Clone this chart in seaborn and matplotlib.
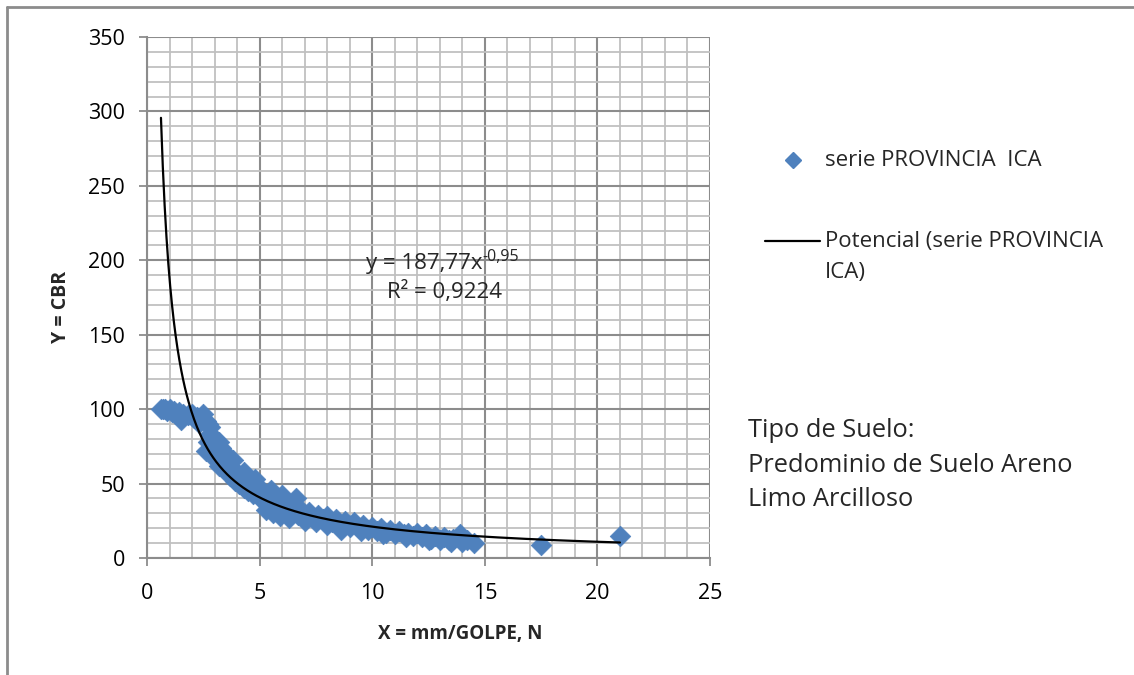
import numpy as np
import pandas as pd
import matplotlib
matplotlib.use("Agg")
import matplotlib.pyplot as plt
from matplotlib.lines import Line2D
from matplotlib.ticker import MultipleLocator
import seaborn as sns

# ---- data ----
x_mm_golpe = [0.62, 0.7, 0.8, 0.9, 1.0, 1.1, 1.2, 1.3, 1.4, 1.5, 1.6, 1.8, 2.0, 2.1, 2.2, 2.4, 2.5, 2.6, 2.7,
              2.6, 2.7, 2.8, 2.9, 3.0, 3.0, 3.1, 3.2, 3.2, 3.3, 3.4, 3.4, 3.5, 3.6, 3.6, 3.7, 3.8, 3.9, 4.0,
              4.1, 4.2, 4.3, 4.4, 4.5, 4.6, 4.7, 4.8, 4.9, 5.0, 5.1, 5.2, 5.3, 5.4, 5.5, 5.6, 5.7, 5.8, 5.9,
              6.0, 6.1, 6.2, 6.4, 6.5, 6.6, 6.7, 6.8, 7.0, 7.2, 7.4, 7.6, 7.8, 8.0, 8.2, 8.4, 8.6, 8.8, 9.0,
              9.2, 9.4, 9.6, 9.8, 10.0, 10.2, 10.4, 10.6, 10.8, 11.0, 11.2, 11.4, 11.6, 11.8, 12.0, 12.2,
              12.4, 12.6, 12.8, 13.0, 13.2, 13.4, 13.6, 13.9, 14.0, 14.2, 14.5, 17.5, 21.0,
              1.5, 2.3, 2.8, 3.3, 3.5, 3.8, 4.3, 4.6, 5.3, 5.5, 5.6, 5.9, 6.0, 6.3, 7.0, 7.5,
              8.0, 8.6, 9.5, 10.5, 11.5, 12.5, 13.5]
y_cbr = [100, 100, 100, 99, 100, 98, 99, 97, 98, 95, 97, 96, 97, 94, 95, 93, 97, 92, 90,
         72, 78, 83, 75, 80, 68, 65, 78, 62, 70, 60, 67, 64, 58, 62, 55, 60, 52, 57,
         50, 54, 47, 50, 45, 48, 43, 53, 44, 40, 46, 38, 42, 36, 40, 33, 38, 35, 31,
         36, 33, 30, 34, 31, 40, 29, 33, 28, 31, 27, 29, 26, 28, 24, 26, 22, 25, 21,
         24, 20, 22, 19, 21, 18, 20, 17, 19, 16, 18, 16, 17, 15, 17, 14,
         16, 13, 15, 12, 14, 12, 13, 16, 11, 12, 10, 9, 15,
         93, 91, 88, 74, 70, 66, 58, 52, 32, 46, 30, 28, 42, 27, 25, 24,
         22, 19, 18, 16, 14, 12, 11]

# power trendline (Excel): y = 187.77 x^-0.95, R^2 = 0.9224
trend_a = 187.77
trend_b = -0.95
eq_base = "y = 187,77x"
eq_exp = "-0,95"
r2_text = "R² = 0,9224"

series_name = "serie PROVINCIA  ICA"
trend_name_1 = "Potencial (serie PROVINCIA"
trend_name_2 = "ICA)"
x_label = "X = mm/GOLPE, N"
y_label = "Y = CBR"
soil_text = "Tipo de Suelo:\nPredominio de Suelo Areno\nLimo Arcilloso"
x_ticks = [0, 5, 10, 15, 20, 25]
y_ticks = [0, 50, 100, 150, 200, 250, 300, 350]

BLUE = "#4F81BD"
GRID_MAJOR = "#8C8C8C"
GRID_MINOR = "#C0C0C0"

# ---- plotting ----
sns.set_theme(style="white")
plt.rcParams['font.family'] = ['Open Sans', 'DejaVu Sans']

W, H = 1134, 675
fig = plt.figure(figsize=(W / 100, H / 100), dpi=100)
ax = fig.add_axes([147 / W, 1 - 558 / H, (710 - 147) / W, (558 - 37) / H])

pts = pd.DataFrame({"x": x_mm_golpe, "y": y_cbr})
sns.scatterplot(data=pts, x="x", y="y", marker="D", s=110, color=BLUE,
                edgecolor=BLUE, linewidth=0.5, ax=ax, zorder=3, legend=False)

xc = np.linspace(min(x_mm_golpe), max(x_mm_golpe), 500)
curve = pd.DataFrame({"x": xc, "y": trend_a * xc ** trend_b})
sns.lineplot(data=curve, x="x", y="y", color="black", linewidth=1.6, ax=ax, zorder=4,
             legend=False)

ax.set_xlim(0, 25)
ax.set_ylim(0, 350)
ax.set_xticks(x_ticks)
ax.set_yticks(y_ticks)
ax.xaxis.set_minor_locator(MultipleLocator(1))
ax.yaxis.set_minor_locator(MultipleLocator(10))
ax.grid(which="minor", color=GRID_MINOR, linewidth=1.3, zorder=0)
ax.grid(which="major", color=GRID_MAJOR, linewidth=1.5, zorder=1)
ax.set_axisbelow(True)
for s in ["top", "right"]:
    ax.spines[s].set_visible(False)
for s in ["left", "bottom"]:
    ax.spines[s].set_color(GRID_MAJOR)
    ax.spines[s].set_linewidth(1.5)
ax.tick_params(which="major", direction="out", length=6, width=1.3, color=GRID_MAJOR,
               labelsize=15.5, labelcolor="black", left=True, bottom=True)
ax.tick_params(axis="y", which="major", pad=10)
ax.tick_params(axis="x", which="major", pad=12)
ax.tick_params(which="minor", length=0)

ax.set_xlabel(x_label, fontsize=13.5, fontweight="bold")
ax.set_ylabel(y_label, fontsize=14, fontweight="bold")
ax.xaxis.set_label_coords(0.556, -0.127)
ax.yaxis.set_label_coords(-0.135, 0.482)

# trendline equation
t_eq = ax.text(12.3, 198, eq_base, fontsize=16, ha="center", va="center", zorder=5)
ax.annotate(eq_exp, xy=(1, 1), xycoords=t_eq, xytext=(0, -3), textcoords="offset points",
            fontsize=11.5, ha="left", va="center", zorder=5)
ax.text(13.2, 178.5, r2_text, fontsize=16, ha="center", va="center", zorder=5)

# legend (drawn in figure space to mimic the Excel layout)
fig.add_artist(Line2D([793 / W], [1 - 160 / H], marker="D", markersize=8.5, color=BLUE,
                      linestyle="none", transform=fig.transFigure))
fig.text(825 / W, 1 - 160 / H, series_name, fontsize=16, ha="left", va="center")
fig.add_artist(Line2D([765 / W, 820 / W], [1 - 241 / H, 1 - 241 / H], color="black",
                      linewidth=1.6, transform=fig.transFigure))
fig.text(825 / W, 1 - 242 / H, trend_name_1, fontsize=16, ha="left", va="center")
fig.text(825 / W, 1 - 273 / H, trend_name_2, fontsize=16, ha="left", va="center")

fig.text(748 / W, 1 - 465 / H, soil_text, fontsize=18.3, ha="left", va="center", linespacing=1.5)

# outer chart border (top and left visible in the reference crop)
fig.add_artist(Line2D([7 / W, 1.0], [1 - 7 / H, 1 - 7 / H], transform=fig.transFigure,
                      color=GRID_MAJOR, linewidth=2))
fig.add_artist(Line2D([7 / W, 7 / W], [1 - 7 / H, 0.0], transform=fig.transFigure,
                      color=GRID_MAJOR, linewidth=2))

fig.savefig("out.png", dpi=100)
